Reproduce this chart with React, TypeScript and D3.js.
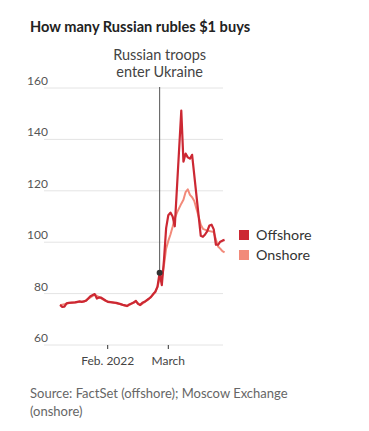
import React from "react";
import * as d3 from "d3";

const offshoreDates = [
  "2022-01-10","2022-01-11","2022-01-12","2022-01-13","2022-01-14","2022-01-17","2022-01-19","2022-01-20",
  "2022-01-21","2022-01-22","2022-01-24","2022-01-26","2022-01-27","2022-01-28","2022-01-29","2022-01-31",
  "2022-02-01","2022-02-03","2022-02-05","2022-02-07","2022-02-08","2022-02-10","2022-02-11","2022-02-13",
  "2022-02-14","2022-02-15","2022-02-16","2022-02-17","2022-02-18","2022-02-20","2022-02-21","2022-02-22",
  "2022-02-23","2022-02-24","2022-02-25","2022-02-26","2022-02-27","2022-02-28","2022-03-01","2022-03-02",
  "2022-03-03","2022-03-04","2022-03-07","2022-03-08","2022-03-09","2022-03-10","2022-03-11","2022-03-12",
  "2022-03-16","2022-03-17","2022-03-18","2022-03-19","2022-03-20","2022-03-21","2022-03-22","2022-03-23",
  "2022-03-24","2022-03-25","2022-03-26","2022-03-27"
];
const offshoreValues = [
  75.6, 74.8, 74.9, 76.2, 76.4, 76.6, 77.0, 76.8,
  77.0, 77.2, 79.0, 79.8, 78.1, 78.5, 78.4, 77.3,
  76.8, 76.6, 76.4, 75.9, 75.6, 75.2, 75.8, 76.5,
  77.2, 76.0, 75.6, 76.4, 76.8, 78.0, 78.7, 79.8,
  80.7, 82.7, 88.1, 83.3, 93.0, 105.5, 110.5, 111.5,
  110.0, 106.2, 151.2, 131.3, 134.5, 133.0, 132.5, 134.0,
  102.5, 102.1, 103.0, 104.3, 106.5, 106.8, 105.0, 99.0,
  99.0, 100.2, 100.6, 100.9
];

const onshoreDates = [
  "2022-01-10","2022-01-14","2022-01-21","2022-01-26","2022-01-31","2022-02-07","2022-02-10","2022-02-14",
  "2022-02-16","2022-02-18","2022-02-21","2022-02-23","2022-02-24","2022-02-25","2022-02-26","2022-02-27",
  "2022-02-28","2022-03-01","2022-03-02","2022-03-03","2022-03-04","2022-03-05","2022-03-07","2022-03-08",
  "2022-03-09","2022-03-10","2022-03-11","2022-03-12","2022-03-13","2022-03-15","2022-03-16","2022-03-17",
  "2022-03-19","2022-03-22","2022-03-23","2022-03-24","2022-03-25","2022-03-26","2022-03-27"
];
const onshoreValues = [
  75.5, 76.3, 76.9, 79.6, 77.2, 75.8, 75.1, 77.0,
  75.5, 76.7, 78.6, 80.6, 82.5, 86.0, 86.0, 91.0,
  97.5, 100.5, 103.0, 106.0, 109.3, 111.5, 115.0, 116.5,
  119.5, 120.6, 118.4, 117.5, 116.0, 110.0, 106.8, 105.2,
  104.5, 104.0, 101.0, 98.3, 97.5, 96.5, 96.0
];

const yTicks = [60, 80, 100, 120, 140, 160];
const xTickDates = ["2022-02-01", "2022-03-01"];
const xTickLabels = ["Feb. 2022", "March"];
const eventDate = "2022-02-25";
const eventValue = 88.1;
const eventLabel = ["Russian troops", "enter Ukraine"];
const seriesNames = ["Offshore", "Onshore"];
const seriesColors = ["#cc2833", "#f28a7a"];
const titleText = "How many Russian rubles $1 buys";
const sourceLines = ["Source: FactSet (offshore); Moscow Exchange", "(onshore)"];

const parse = d3.timeParse("%Y-%m-%d");

export default function App() {
  const W = 369, H = 431;
  const x = d3.scaleTime()
    .domain([parse("2022-02-01")!, parse("2022-03-01")!])
    .range([107.7, 168.3]);
  const y = d3.scaleLinear().domain([60, 160]).range([345, 88]);
  const gridX0 = 44, gridX1 = 223;

  const off = offshoreDates.map((d, i) => ({ d: parse(d)!, v: offshoreValues[i] }));
  const on = onshoreDates.map((d, i) => ({ d: parse(d)!, v: onshoreValues[i] }));
  const line = d3.line<{ d: Date; v: number }>().x(p => x(p.d)).y(p => y(p.v));

  const ex = x(parse(eventDate)!);
  const font = "Lato, 'Open Sans', sans-serif";

  return (
    <svg width={W} height={H} style={{ position: "absolute", left: 0, top: 0, background: "#fff" }}
      fontFamily={font}>
      <text x={30} y={32} fontSize={14.6} fontWeight={700} fill="#222">{titleText}</text>

      {yTicks.map(t => (
        <g key={t}>
          <line x1={gridX0} x2={gridX1} y1={y(t)} y2={y(t)} stroke="#e4e4e4" strokeWidth={1} />
          <text x={48} y={y(t) - 3} fontSize={12} fill="#555" textAnchor="end">{t}</text>
        </g>
      ))}

      {xTickDates.map((d, i) => {
        const xx = x(parse(d)!);
        return (
          <g key={d}>
            <line x1={xx} x2={xx} y1={345} y2={349} stroke="#333" strokeWidth={1} />
            <text x={xx} y={365} fontSize={12} fill="#444" textAnchor="middle">{xTickLabels[i]}</text>
          </g>
        );
      })}

      <line x1={ex} x2={ex} y1={87} y2={y(eventValue)} stroke="#555" strokeWidth={1} />
      {eventLabel.map((s, i) => (
        <text key={s} x={ex} y={60 + i * 17} fontSize={14.5} fill="#444" textAnchor="middle">{s}</text>
      ))}

      <path d={line(on) || ""} fill="none" stroke={seriesColors[1]} strokeWidth={2} strokeLinejoin="round" />
      <path d={line(off) || ""} fill="none" stroke={seriesColors[0]} strokeWidth={2.2} strokeLinejoin="round" />
      <circle cx={ex} cy={y(eventValue)} r={3} fill="#333" />

      {seriesNames.map((s, i) => (
        <g key={s}>
          <rect x={239} y={230 + i * 20} width={10} height={10} fill={seriesColors[i]} />
          <text x={256} y={239.5 + i * 20} fontSize={14.3} fill="#333">{s}</text>
        </g>
      ))}

      {sourceLines.map((s, i) => (
        <text key={s} x={30} y={398 + i * 18} fontSize={13} fill="#666">{s}</text>
      ))}
    </svg>
  );
}
